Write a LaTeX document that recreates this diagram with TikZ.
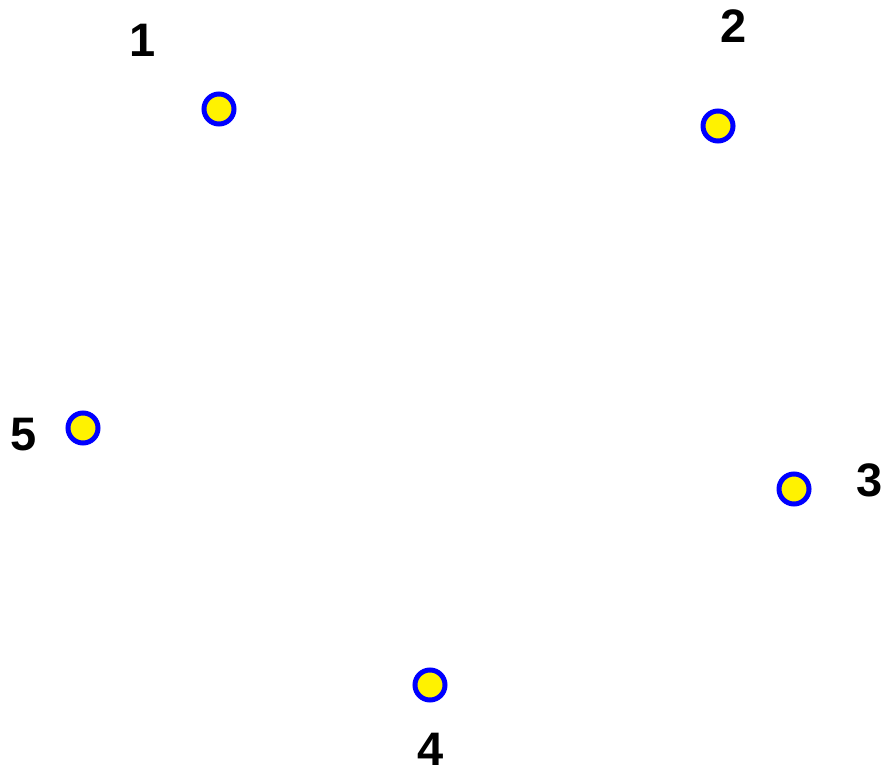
\documentclass[tikz,border=0pt]{standalone}
\usepackage{fontspec}
\setmainfont{Liberation Sans}
\usetikzlibrary{positioning}

\begin{document}
\begin{tikzpicture}[x=1pt,y=-1pt,
 every node/.style={font=\fontsize{47}{47}\selectfont\bfseries},
 vertex/.style={circle,draw=blue,fill=yellow,line width=5pt,minimum size=30pt,inner sep=0pt},
 lbl/.style={inner sep=0pt}]
\useasboundingbox (0,0) rectangle (882,767);
\node[vertex] (v1) at (219,109) {};
\node[vertex] (v2) at (718,126) {};
\node[vertex] (v3) at (794,489) {};
\node[vertex] (v4) at (430,685) {};
\node[vertex] (v5) at (83,428) {};
\node[lbl] (l1) at (143,40) {1};
\node[lbl] (l2) at (734,26) {2};
\node[lbl] (l3) at (870,480) {3};
\node[lbl] (l4) at (431,749) {4};
\node[lbl] (l5) at (24,435) {5};
\end{tikzpicture}
\end{document}
